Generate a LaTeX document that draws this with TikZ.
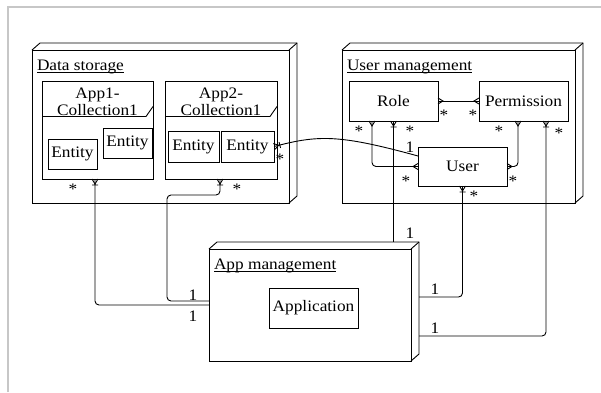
\documentclass[tikz,border=0pt]{standalone}
\usepackage{fontspec}
\setmainfont{Liberation Serif}[FakeStretch=1.08]
\usetikzlibrary{calc,arrows.meta}

% ER "many" end: crow's foot opening onto the entity
\pgfdeclarearrow{
  name = crow,
  setup code = {
    \pgfarrowssettipend{0pt}
    \pgfarrowssetlineend{0pt}
    \pgfarrowssetbackend{-5pt}
  },
  drawing code = {
    \pgfsetdash{}{0pt}
    \pgfpathmoveto{\pgfqpoint{0pt}{3pt}}
    \pgfpathlineto{\pgfqpoint{-5pt}{0pt}}
    \pgfpathlineto{\pgfqpoint{0pt}{-3pt}}
    \pgfusepathqstroke
  }
}
% ER "one to many" end: crow's foot plus a bar
\pgfdeclarearrow{
  name = crowbar,
  setup code = {
    \pgfarrowssettipend{0pt}
    \pgfarrowssetlineend{0pt}
    \pgfarrowssetbackend{-7pt}
  },
  drawing code = {
    \pgfsetdash{}{0pt}
    \pgfpathmoveto{\pgfqpoint{0pt}{3pt}}
    \pgfpathlineto{\pgfqpoint{-5pt}{0pt}}
    \pgfpathlineto{\pgfqpoint{0pt}{-3pt}}
    \pgfpathmoveto{\pgfqpoint{-6pt}{3pt}}
    \pgfpathlineto{\pgfqpoint{-6pt}{-3pt}}
    \pgfusepathqstroke
  }
}

% underlined title with the rule at a fixed depth
\newcommand\ulword[1]{\setbox0\hbox{#1}\rlap{\rule[-2.7pt]{\wd0}{0.8pt}}\box0}

% 3D deployment node: hull node (name) with front face, top and side
\newcommand\cubenode[5]{%
  \node[hull, minimum width=#4pt+8pt, minimum height=#5pt+7pt] (#1) at (#2,#3-7) {};
  \draw (#1.south west) rectangle ($(#1.north east)+(-8,7)$);
  \draw ($(#1.north west)+(0,7)$) -- ($(#1.north west)+(8,0)$) -- (#1.north east)
        -- ($(#1.south east)+(0,-7)$) -- ($(#1.south east)+(-8,0)$);
  \draw ($(#1.north east)+(-8,7)$) -- (#1.north east);
}
% header of a collection frame with its cut corner
\newcommand\framehead[1]{%
  \draw ($(#1.north west)+(0,35.5)$) -- ($(#1.north east)+(-7,35.5)$) -- ($(#1.north east)+(0,25.5)$);
}

\begin{document}
\begin{tikzpicture}[x=1pt, y=-1pt, line width=0.9pt,
  font=\fontsize{16}{17.5}\selectfont,
  every node/.style={inner sep=0pt, outer sep=0pt},
  hull/.style={rectangle, anchor=north west},
  box/.style={draw, rectangle, anchor=north west},
  title/.style={anchor=base west},
  mult/.style={anchor=base},
  edge/.style={draw, rounded corners=4pt}]

\useasboundingbox (0,0) rectangle (601,392);
\draw[line width=1.5pt, draw=black!22] (8,392) -- (8,7) -- (601,7);

% deployment nodes
\cubenode{ds}{32}{50}{257}{153}
\cubenode{um}{342}{50}{233}{153}
\cubenode{am}{209}{249}{202}{112}
\node[title] (dst) at (37,70) {\ulword{Data storage}};
\node[title] (umt) at (347,70) {\ulword{User management}};
\node[title] (amt) at (214,269) {\ulword{App management}};

% collections in the data storage
\node[box, minimum width=111pt, minimum height=98pt] (c1) at (42,81) {};
\framehead{c1}
\node[mult] (c1a) at (97.5,98) {App1-};
\node[mult] (c1b) at (97.5,115.5) {Collection1};
\node[box, minimum width=112pt, minimum height=98pt] (c2) at (165,81) {};
\framehead{c2}
\node[mult] (c2a) at (221,98) {App2-};
\node[mult] (c2b) at (221,115.5) {Collection1};

\node[box, minimum width=49pt, minimum height=30pt] (e1) at (48,139) {};
\node (e1t) at (e1) {Entity};
\node[box, minimum width=49pt, minimum height=30pt] (e2) at (103,128) {};
\node (e2t) at (e2) {Entity};
\node[box, minimum width=51pt, minimum height=31pt] (e3) at (168,131) {};
\node (e3t) at (e3) {Entity};
\node[box, minimum width=53pt, minimum height=31pt] (e4) at (221,131) {};
\node (e4t) at (e4) {Entity};

% user management classes
\node[box, minimum width=89pt, minimum height=40pt] (role) at (349,81) {};
\node (rolet) at (role) {Role};
\node[box, minimum width=89pt, minimum height=40pt] (perm) at (479,81) {};
\node (permt) at (perm) {Permission};
\node[box, minimum width=89pt, minimum height=39pt] (user) at (418,147) {};
\node (usert) at (user) {User};

% application
\node[box, minimum width=89pt, minimum height=40pt] (app) at (269,288) {};
\node (appt) at (app) {Application};

% relations
\draw[edge, crow-crow] (role.east) -- (perm.west);
\draw[edge, crow-crow] ([xshift=-21.5pt]role.south) |- (user.west);
\draw[edge, crow-crow] ([xshift=-5.5pt]perm.south) |- (user.east);
\draw[edge, crowbar-] (role.south) -- (role.south |- am.north);
\draw[edge, crowbar-] (user.south) |- ([yshift=4.5pt]am.east);
\draw[edge, crowbar-] ([xshift=22.5pt]perm.south) |- ([yshift=-34.5pt]am.east);
\draw[edge, crowbar-] ([xshift=-2.5pt]c1.south) |- ([yshift=-3.5pt]am.west);
\coordinate (jog) at (167,195);
\draw[edge, crowbar-] ([xshift=-1pt]c2.south) |- (jog) |- ([yshift=0.5pt]am.west);
\draw[edge, crowbar-] (e4.east) .. controls (318,135) and (338,134) .. ([yshift=10.5pt]user.west);

% multiplicities
\node[mult] (m1) at (444,120) {*};
\node[mult] (m2) at (473,120) {*};
\node[mult] (m3) at (359,136) {*};
\node[mult] (m4) at (406,186) {*};
\node[mult] (m5) at (499,136) {*};
\node[mult] (m6) at (513,186) {*};
\node[mult] (m7) at (410,136) {*};
\node[mult] (m8) at (474,201) {*};
\node[mult] (m9) at (559,138) {*};
\node[mult] (m10) at (73,194) {*};
\node[mult] (m11) at (237,194) {*};
\node[mult] (m12) at (280,164.5) {*};
\node[mult] (o1) at (410,238) {1};
\node[mult] (o2) at (435,294) {1};
\node[mult] (o3) at (435,333) {1};
\node[mult] (o4) at (193,300.5) {1};
\node[mult] (o5) at (193,321.5) {1};
\node[mult] (o6) at (410,152.5) {1};
\end{tikzpicture}
\end{document}
